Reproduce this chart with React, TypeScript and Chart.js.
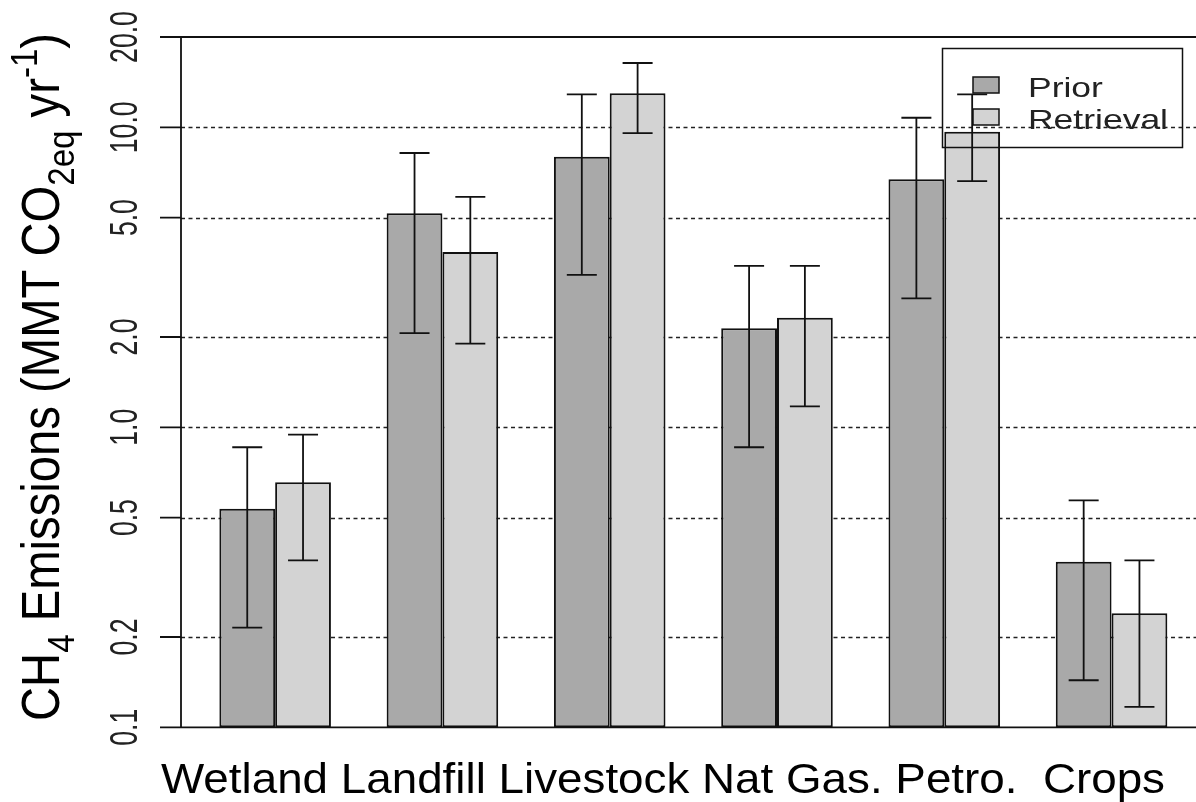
import React, { useEffect, useRef } from "react";
import { Chart, registerables } from "chart.js";

Chart.register(...registerables);

const categories = ["Wetland", "Landfill", "Livestock", "Nat Gas.", "Petro.", "Crops"];
const seriesNames = ["Prior", "Retrieval"];
const priorValues = [0.535, 5.17, 7.98, 2.14, 6.71, 0.356];
const priorLow = [0.215, 2.06, 3.22, 0.858, 2.69, 0.1435];
const priorHigh = [0.858, 8.21, 12.88, 3.45, 10.76, 0.571];
const retrievalValues = [0.656, 3.84, 13.0, 2.32, 9.67, 0.24];
const retrievalLow = [0.36, 1.9, 9.57, 1.175, 6.62, 0.117];
const retrievalHigh = [0.945, 5.86, 16.38, 3.45, 12.88, 0.36];
const yTickValues = [0.1, 0.2, 0.5, 1, 2, 5, 10, 20];
const yTickLabels = ["0.1", "0.2", "0.5", "1.0", "2.0", "5.0", "10.0", "20.0"];
const gridValues = [0.2, 0.5, 1, 2, 5, 10];
const seriesColors = ["#a9a9a9", "#d3d3d3"];

const FONT = '"Liberation Sans", Arial, Helvetica, sans-serif';

const lows = [priorLow, retrievalLow];
const highs = [priorHigh, retrievalHigh];

const decorPlugin = {
  id: "decor",
  beforeDatasetsDraw(chart: any) {
    const ctx = chart.ctx;
    const y = chart.scales.y;
    const axisX = chart.chartArea.left - 10.5;
    ctx.save();
    ctx.strokeStyle = "#222";
    ctx.lineWidth = 1.5;
    ctx.setLineDash([4, 3.5]);
    for (const v of gridValues) {
      const py = Math.round(y.getPixelForValue(v)) + 0.5;
      ctx.beginPath();
      ctx.moveTo(axisX, py);
      ctx.lineTo(chart.width, py);
      ctx.stroke();
    }
    ctx.restore();
  },
  afterDatasetsDraw(chart: any) {
    const ctx = chart.ctx;
    const y = chart.scales.y;
    const area = chart.chartArea;
    const axisX = area.left - 10.5;

    // error bars
    ctx.save();
    ctx.strokeStyle = "#111";
    ctx.lineWidth = 1.8;
    for (let d = 0; d < 2; d++) {
      const meta = chart.getDatasetMeta(d);
      meta.data.forEach((bar: any, i: number) => {
        const x = bar.x;
        const yl = y.getPixelForValue(lows[d][i]);
        const yh = y.getPixelForValue(highs[d][i]);
        ctx.beginPath();
        ctx.moveTo(x, yl);
        ctx.lineTo(x, yh);
        ctx.moveTo(x - 15, yl);
        ctx.lineTo(x + 15, yl);
        ctx.moveTo(x - 15, yh);
        ctx.lineTo(x + 15, yh);
        ctx.stroke();
      });
    }
    ctx.restore();

    // axes
    ctx.save();
    ctx.strokeStyle = "#111";
    ctx.lineWidth = 1.8;
    const yTop = y.getPixelForValue(20);
    const yBot = y.getPixelForValue(0.1);
    ctx.beginPath();
    ctx.moveTo(axisX, yTop);
    ctx.lineTo(axisX, yBot);
    ctx.moveTo(axisX - 21, yTop);
    ctx.lineTo(chart.width, yTop);
    ctx.moveTo(axisX - 21, yBot);
    ctx.lineTo(chart.width, yBot);
    for (const v of yTickValues) {
      const py = y.getPixelForValue(v);
      ctx.moveTo(axisX - 21, py);
      ctx.lineTo(axisX, py);
    }
    ctx.stroke();
    ctx.restore();

    // y tick labels (rotated)
    ctx.save();
    ctx.fillStyle = "#222";
    yTickValues.forEach((v, i) => {
      const py = y.getPixelForValue(v);
      ctx.save();
      ctx.translate(axisX - 44, py);
      ctx.rotate(-Math.PI / 2);
      ctx.scale(0.7, 1);
      ctx.font = `38px ${FONT}`;
      ctx.textAlign = "center";
      ctx.textBaseline = "alphabetic";
      ctx.fillText(yTickLabels[i], 0, 0);
      ctx.restore();
    });
    ctx.restore();

    // y-axis title
    const f = 53;
    const segs = [
      { t: "CH", s: 1, dy: 0 },
      { t: "4", s: 0.7, dy: 0.28 },
      { t: " Emissions (MMT CO", s: 1, dy: 0 },
      { t: "2eq", s: 0.7, dy: 0.28 },
      { t: " yr", s: 1, dy: 0 },
      { t: "-1", s: 0.7, dy: -0.42 },
      { t: ")", s: 1, dy: 0 },
    ];
    ctx.save();
    let total = 0;
    for (const sg of segs) {
      ctx.font = `${f * sg.s}px ${FONT}`;
      total += ctx.measureText(sg.t).width;
    }
    const sAlong = 688 / total;
    ctx.translate(59, 721);
    ctx.rotate(-Math.PI / 2);
    ctx.scale(sAlong, 1);
    ctx.fillStyle = "#000";
    ctx.textBaseline = "alphabetic";
    ctx.textAlign = "left";
    let cx = 0;
    for (const sg of segs) {
      ctx.font = `${f * sg.s}px ${FONT}`;
      ctx.fillText(sg.t, cx, sg.dy * f);
      cx += ctx.measureText(sg.t).width;
    }
    ctx.restore();

    // category labels (single line)
    const labelLine = categories.slice(0, 5).join(" ") + "  " + categories[5];
    ctx.save();
    ctx.font = `40px ${FONT}`;
    const lw = ctx.measureText(labelLine).width;
    const sx = 1004 / lw;
    ctx.translate(161, 793);
    ctx.scale(sx, 1.05);
    ctx.fillStyle = "#000";
    ctx.textAlign = "left";
    ctx.textBaseline = "alphabetic";
    ctx.fillText(labelLine, 0, 0);
    ctx.restore();

    // legend
    ctx.save();
    ctx.strokeStyle = "#111";
    ctx.lineWidth = 1.5;
    ctx.strokeRect(942.5, 48.5, 240, 99);
    const swY = [77, 109];
    const baseY = [96.5, 128.5];
    ctx.font = `28px ${FONT}`;
    const rw = ctx.measureText(seriesNames[1]).width;
    const lsx = 140 / rw;
    for (let k = 0; k < 2; k++) {
      ctx.fillStyle = seriesColors[k];
      ctx.fillRect(973, swY[k], 26, 16);
      ctx.strokeRect(973, swY[k], 26, 16);
      ctx.save();
      ctx.translate(1028, baseY[k]);
      ctx.scale(lsx, 1);
      ctx.fillStyle = "#222";
      ctx.font = `28px ${FONT}`;
      ctx.textAlign = "left";
      ctx.textBaseline = "alphabetic";
      ctx.fillText(seriesNames[k], 0, 0);
      ctx.restore();
    }
    ctx.restore();
  },
};

export default function App() {
  const canvasRef = useRef<HTMLCanvasElement | null>(null);

  useEffect(() => {
    const canvas = canvasRef.current;
    if (!canvas) return;
    const chart = new Chart(canvas, {
      type: "bar",
      data: {
        labels: categories,
        datasets: [
          {
            label: seriesNames[0],
            data: priorValues,
            backgroundColor: seriesColors[0],
            borderColor: "#111",
            borderWidth: 2,
            borderSkipped: false,
            inflateAmount: 0,
          },
          {
            label: seriesNames[1],
            data: retrievalValues,
            backgroundColor: seriesColors[1],
            borderColor: "#111",
            borderWidth: 2,
            borderSkipped: false,
            inflateAmount: 0,
          },
        ],
      },
      options: {
        animation: false,
        responsive: true,
        maintainAspectRatio: false,
        devicePixelRatio: 1,
        layout: { padding: { left: 191.5, right: 0.8, top: 37, bottom: 74.7 } },
        datasets: { bar: { categoryPercentage: 0.667, barPercentage: 1.0 } },
        plugins: { legend: { display: false }, tooltip: { enabled: false }, title: { display: false } },
        scales: {
          x: { type: "category", display: false, offset: true, grid: { display: false } },
          y: { type: "logarithmic", display: false, min: 0.1, max: 20 },
        },
      },
      plugins: [decorPlugin],
    });
    return () => chart.destroy();
  }, []);

  return (
    <div style={{ position: "fixed", left: 0, top: 0, width: 1196, height: 802, background: "#fff" }}>
      <canvas ref={canvasRef} />
    </div>
  );
}
